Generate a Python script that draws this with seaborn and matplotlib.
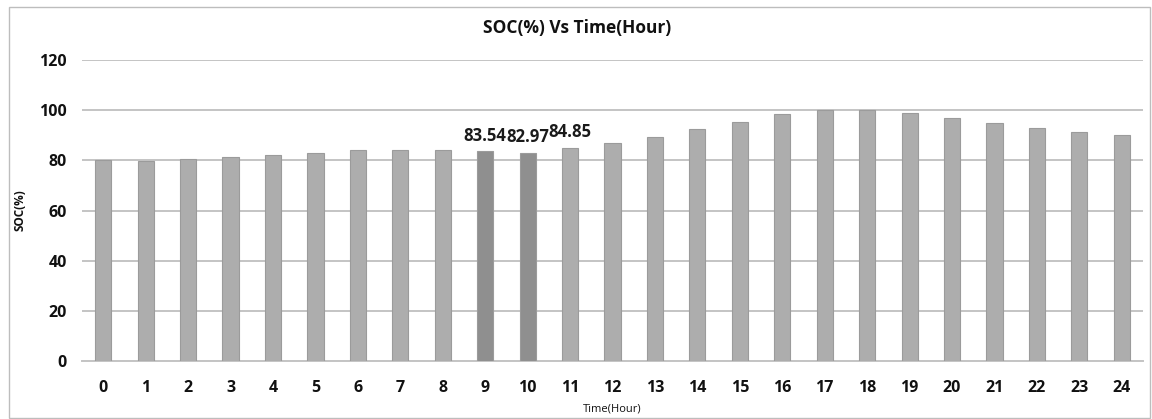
import seaborn as sns
import matplotlib.pyplot as plt
import pandas as pd
from matplotlib.patches import Rectangle

# data
hours = list(range(25))
soc = [80.0, 79.9, 80.4, 81.2, 82.3, 83.1, 84.0, 84.3, 84.1, 83.54, 82.97, 84.85,
       87.0, 89.4, 92.4, 95.2, 98.4, 99.9, 99.9, 99.0, 96.8, 94.7, 92.9, 91.4, 90.2]
labelled = [9, 10, 11]
dark_bars = [9, 10]

df = pd.DataFrame({"Hour": hours, "SOC": soc})

sns.set_theme(style="white")
plt.rcParams["font.family"] = ["Open Sans", "DejaVu Sans"]

fig = plt.figure(figsize=(11.52, 4.19), dpi=100)
ax = fig.add_axes([0.0712, 0.1384, 0.9210, 0.7184])

colors = ["#8f8f8f" if h in dark_bars else "#adadad" for h in hours]
sns.barplot(data=df, x="Hour", y="SOC", hue="Hour", palette=colors, legend=False,
            width=0.38, edgecolor="#9b9b9b", linewidth=0.8, saturation=1, ax=ax, zorder=3)

for h in labelled:
    ax.bar_label(ax.containers[h], labels=[f"{soc[h]:.2f}"], padding=5,
                 fontsize=12, fontweight="bold", color="#1a1a1a")

ax.set_ylim(0, 120)
ax.set_yticks(range(0, 121, 20))
ax.grid(axis="y", color="#c4c4c4", linewidth=1.4, zorder=0)
for s in ["top", "right", "left"]:
    ax.spines[s].set_visible(False)
ax.spines["bottom"].set_color("#c4c4c4")
ax.spines["bottom"].set_linewidth(1.4)
ax.tick_params(axis="both", length=0, labelsize=11.5)
ax.tick_params(axis="y", pad=11)
ax.tick_params(axis="x", pad=14)
for t in ax.get_xticklabels() + ax.get_yticklabels():
    t.set_fontweight("bold")
    t.set_color("#111111")

ax.set_xlabel("Time(Hour)", fontsize=8, labelpad=5, color="#111111")
ax.set_ylabel("SOC(%)", fontsize=8.5, fontweight="bold", labelpad=9, color="#111111")
fig.text(0.501, 0.933, "SOC(%) Vs Time(Hour)", ha="center", va="center",
         fontsize=12.5, fontweight="bold", color="#111111")

# light outer frame of the chart area
fig.patches.append(Rectangle((0.008, 0.002), 0.99, 0.982, transform=fig.transFigure,
                             fill=False, edgecolor="#bdbdbd", linewidth=1))

fig.savefig("out.png", dpi=100)
